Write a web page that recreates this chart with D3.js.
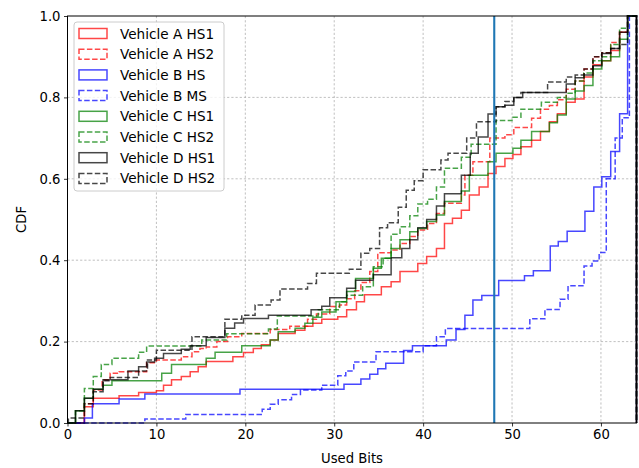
<!DOCTYPE html>
<html>
<head>
<meta charset="utf-8">
<script src="https://cdn.jsdelivr.net/npm/d3@7"></script>
<style>
  body { margin: 0; background: #fff; }
  text { font-family: "DejaVu Sans", sans-serif; }
</style>
</head>
<body>
<svg id="chart" width="639" height="468"></svg>
<script>
// step points [x, cdf]
var aHS1 = [[1.9,0.04],[2.9,0.061],[5.8,0.067],[8,0.075],[10,0.079],[10.8,0.093],[11.7,0.106],[12.8,0.114],[13.8,0.126],[14.7,0.138],[15.6,0.151],[18.6,0.163],[19.8,0.173],[20.9,0.183],[21.8,0.192],[22.8,0.204],[23.7,0.22],[25.6,0.228],[26.7,0.238],[27.6,0.245],[28.6,0.255],[30.4,0.261],[31.4,0.278],[32.5,0.298],[33.4,0.315],[35.3,0.335],[36.4,0.347],[37.4,0.372],[39.4,0.392],[40.4,0.409],[41.5,0.429],[42.4,0.49],[43.3,0.503],[44.3,0.523],[45.2,0.56],[46.3,0.58],[47.3,0.613],[48.2,0.63],[49.2,0.65],[50.1,0.66],[51,0.679],[52.2,0.695],[53.2,0.716],[54.2,0.74],[55.1,0.76],[56.1,0.788],[57.1,0.796],[58.1,0.85],[59.1,0.88],[60.1,0.89],[61.1,0.915],[62.1,0.96],[63,1]];
var aHS2 = [[1.9,0.047],[2.9,0.081],[3.9,0.106],[4.8,0.122],[5.8,0.126],[8.9,0.148],[10,0.155],[12.8,0.163],[14,0.175],[14.9,0.183],[15.6,0.187],[16.8,0.2],[18,0.212],[19.6,0.22],[22.8,0.23],[25,0.238],[27,0.255],[28,0.268],[29.5,0.286],[30.6,0.29],[31.4,0.305],[32.3,0.325],[33,0.345],[34,0.372],[34.9,0.418],[36.4,0.425],[37.4,0.441],[38.5,0.458],[39.4,0.474],[40.5,0.49],[41.5,0.515],[42.4,0.54],[44.3,0.56],[44.7,0.609],[45.6,0.642],[47.5,0.7],[49.2,0.708],[50.2,0.726],[52.2,0.749],[53.2,0.771],[54.2,0.78],[55.1,0.794],[56.1,0.82],[57.1,0.84],[58.1,0.87],[59.1,0.9],[60.1,0.91],[61.1,0.935],[62.1,0.96],[63,1]];
var bHS = [[1.9,0.012],[2.8,0.047],[5.8,0.059],[8.7,0.071],[19.4,0.083],[31.1,0.095],[33,0.108],[34,0.12],[34.9,0.133],[35.8,0.147],[37.8,0.178],[38.8,0.19],[42.6,0.204],[43.7,0.23],[44.7,0.265],[45.6,0.302],[46.6,0.313],[48.5,0.35],[51.4,0.362],[52.4,0.374],[54.3,0.435],[55.2,0.446],[56.2,0.471],[58.2,0.52],[59.2,0.58],[60.1,0.605],[61.1,0.667],[62.1,0.76],[63,1]];
var bMS = [[8.7,0.01],[13.3,0.021],[21.9,0.034],[22.8,0.046],[23.7,0.057],[25.2,0.07],[26.2,0.081],[28.6,0.093],[30.4,0.116],[31.3,0.128],[32.2,0.15],[34.7,0.175],[40,0.19],[41.5,0.212],[42.5,0.232],[52,0.256],[53.7,0.279],[55.4,0.304],[56.3,0.337],[58.1,0.386],[59,0.398],[59.8,0.419],[60.6,0.6],[61.6,0.7],[62.4,0.75],[63.2,1]];
var cHS1 = [[0.9,0.03],[1.9,0.061],[2.9,0.083],[4,0.093],[5,0.104],[10.6,0.122],[11.7,0.144],[15.6,0.159],[16.6,0.174],[19.6,0.19],[22.8,0.204],[23.7,0.224],[25.6,0.233],[26.7,0.245],[27.6,0.26],[28.6,0.273],[30.2,0.298],[31.4,0.323],[32.4,0.355],[34.4,0.38],[35.3,0.405],[36.4,0.429],[37.4,0.45],[38.5,0.47],[39.4,0.478],[40.4,0.495],[41.5,0.511],[42.4,0.544],[44.3,0.57],[45.2,0.609],[47.3,0.642],[48.2,0.663],[50.1,0.675],[51,0.695],[52.2,0.716],[54.2,0.738],[55.1,0.757],[56.1,0.796],[57.1,0.816],[58.1,0.829],[59.1,0.87],[60.1,0.89],[61.1,0.9],[62.1,0.943],[63,1]];
var cHS2 = [[0.9,0.03],[1.9,0.085],[2.9,0.114],[3.8,0.144],[5,0.159],[8,0.174],[8.9,0.189],[15.1,0.204],[17.9,0.219],[22.6,0.231],[23.6,0.263],[28.2,0.278],[30.6,0.298],[31.4,0.314],[33.2,0.335],[34.4,0.384],[35.5,0.405],[36.4,0.464],[37.4,0.482],[38.5,0.509],[39.4,0.538],[40.5,0.55],[41.5,0.58],[42.4,0.626],[44.3,0.653],[45.4,0.685],[48.2,0.743],[50,0.751],[51,0.771],[53.3,0.788],[55.1,0.8],[56.1,0.81],[57.1,0.84],[58.1,0.86],[59.1,0.89],[60.1,0.9],[61.1,0.93],[62.1,0.97],[63,1]];
var dHS1 = [[0.9,0.03],[1.9,0.061],[2.9,0.083],[4,0.106],[6.8,0.128],[8,0.138],[8.9,0.15],[9.8,0.159],[10.8,0.171],[12.8,0.181],[13.8,0.19],[15.6,0.21],[17.7,0.233],[18.8,0.246],[19.8,0.257],[22.6,0.265],[27.4,0.278],[28.6,0.287],[29.5,0.308],[31.4,0.331],[32.4,0.351],[34.4,0.364],[36.4,0.406],[37.6,0.429],[38.5,0.45],[39.4,0.48],[40.4,0.5],[41.5,0.533],[42.4,0.563],[44.3,0.609],[45.3,0.663],[46.2,0.703],[47.3,0.759],[48.2,0.777],[49.2,0.781],[50.2,0.8],[51.2,0.812],[56.1,0.833],[57.1,0.848],[58.1,0.855],[59.1,0.878],[60.1,0.908],[61.1,0.92],[62.1,0.96],[63,1]];
var dHS2 = [[0.1,0.012],[1.9,0.047],[2.9,0.077],[4,0.104],[4.8,0.112],[8,0.128],[9,0.155],[10,0.179],[14,0.212],[17.7,0.255],[19.6,0.265],[21.1,0.29],[22.9,0.302],[23.9,0.329],[27,0.343],[28,0.368],[31.7,0.378],[33,0.417],[34,0.429],[35.1,0.48],[36,0.492],[37.2,0.53],[38.1,0.572],[39,0.595],[40,0.622],[42,0.646],[42.8,0.663],[44.9,0.7],[46,0.74],[48.2,0.777],[49.2,0.79],[50.2,0.8],[51,0.812],[54,0.838],[56.1,0.85],[57.1,0.855],[58.1,0.87],[59.1,0.9],[60.1,0.91],[61.1,0.92],[62.1,0.93],[63,1]];

var seriesNames = ['Vehicle A HS1', 'Vehicle A HS2', 'Vehicle B HS', 'Vehicle B MS', 'Vehicle C HS1', 'Vehicle C HS2', 'Vehicle D HS1', 'Vehicle D HS2'];
var seriesData = [aHS1, aHS2, bHS, bMS, cHS1, cHS2, dHS1, dHS2];
var seriesColors = ['#ff0000', '#ff0000', '#0000ff', '#0000ff', '#008000', '#008000', '#000000', '#000000'];
var seriesDashed = [false, true, false, true, false, true, false, true];

var xTicks = [0, 10, 20, 30, 40, 50, 60];
var yTicks = [0, 0.2, 0.4, 0.6, 0.8, 1.0];
var cutLine = 48;

const svg = d3.select('#chart');
const pLeft = 67.5, pRight = 636.5, pTop = 16, pBottom = 423;

const x = d3.scaleLinear().domain([0, 64]).range([pLeft, pRight]);
const y = d3.scaleLinear().domain([0, 1]).range([pBottom, pTop]);

// grid
svg.append('g').selectAll('line').data(xTicks.slice(1)).enter().append('line')
  .attr('x1', d => x(d)).attr('x2', d => x(d)).attr('y1', pTop).attr('y2', pBottom)
  .attr('stroke', '#b0b0b0').attr('stroke-width', 0.8).attr('stroke-dasharray', '2.2,2');
svg.append('g').selectAll('line').data(yTicks.slice(1, -1)).enter().append('line')
  .attr('x1', pLeft).attr('x2', pRight).attr('y1', d => y(d)).attr('y2', d => y(d))
  .attr('stroke', '#b0b0b0').attr('stroke-width', 0.8).attr('stroke-dasharray', '2.2,2');

// step curves (closed down to 0 like a step histogram)
const line = d3.line().x(d => x(d[0])).y(d => y(d[1])).curve(d3.curveStepAfter);
seriesData.forEach((data, i) => {
  const pts = [[0, 0]].concat(data).concat([[64, 1], [64, 0]]);
  svg.append('path').datum(pts)
    .attr('d', line)
    .attr('fill', 'none')
    .attr('stroke', seriesColors[i])
    .attr('stroke-opacity', 0.72)
    .attr('stroke-width', 1.5)
    .attr('stroke-dasharray', seriesDashed[i] ? '5.5,2.4' : null);
});

// vertical marker
svg.append('line')
  .attr('x1', x(cutLine)).attr('x2', x(cutLine)).attr('y1', pTop).attr('y2', pBottom)
  .attr('stroke', '#1f77b4').attr('stroke-width', 2.1);

// axes
const xAxis = svg.append('g').attr('transform', `translate(0,${pBottom})`)
  .call(d3.axisBottom(x).tickValues(xTicks).tickSize(3.5).tickPadding(3.5).tickSizeOuter(0));
const yAxis = svg.append('g').attr('transform', `translate(${pLeft},0)`)
  .call(d3.axisLeft(y).tickValues(yTicks).tickFormat(d3.format('.1f')).tickSize(3.5).tickPadding(3.5).tickSizeOuter(0));
[xAxis, yAxis].forEach(g => {
  g.select('.domain').remove();
  g.selectAll('.tick line').attr('stroke', '#000').attr('stroke-width', 0.8);
  g.selectAll('.tick text').attr('font-size', 13.2).attr('fill', '#000').style('font-family', '"DejaVu Sans", sans-serif');
});

// frame
svg.append('rect').attr('x', pLeft).attr('y', pTop).attr('width', pRight - pLeft).attr('height', pBottom - pTop)
  .attr('fill', 'none').attr('stroke', '#000').attr('stroke-width', 1);

svg.append('text').attr('x', (pLeft + pRight) / 2).attr('y', 463).attr('text-anchor', 'middle')
  .attr('font-size', 13.2).text('Used Bits');
svg.append('text').attr('transform', `translate(26,${(pTop + pBottom) / 2}) rotate(-90)`)
  .attr('text-anchor', 'middle').attr('font-size', 13.2).text('CDF');

// legend
const lg = svg.append('g');
lg.append('rect').attr('x', 74).attr('y', 22).attr('width', 150).attr('height', 169).attr('rx', 3)
  .attr('fill', '#fff').attr('fill-opacity', 0.8).attr('stroke', '#cccccc').attr('stroke-width', 1);
seriesNames.forEach((name, i) => {
  const cy = 33.5 + i * 20.7;
  lg.append('rect').attr('x', 79).attr('y', cy - 5).attr('width', 28).attr('height', 10)
    .attr('fill', 'none').attr('stroke', seriesColors[i]).attr('stroke-opacity', 0.72)
    .attr('stroke-width', 1.5).attr('stroke-dasharray', seriesDashed[i] ? '5.5,2.4' : null);
  lg.append('text').attr('x', 120).attr('y', cy + 5).attr('font-size', 13.6).text(name);
});
</script>
</body>
</html>
